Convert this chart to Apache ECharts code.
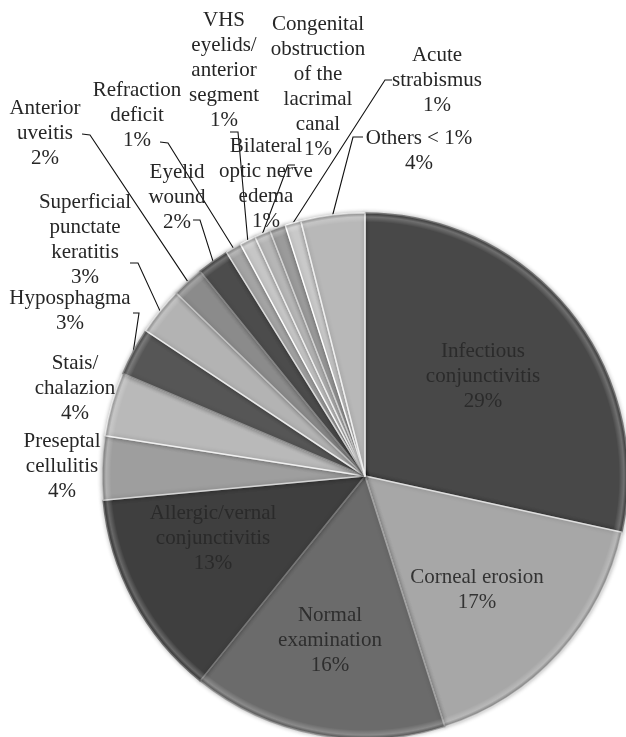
<!DOCTYPE html>
<html>
<head>
<meta charset="utf-8">
<script src="https://cdn.jsdelivr.net/npm/echarts@6/dist/echarts.min.js"></script>
<style>
  html, body { margin: 0; padding: 0; background: #ffffff; }
  #chart { width: 626px; height: 737px; }
</style>
</head>
<body>
<div id="chart"></div>
<script>
// Diagnoses, clockwise from 12 o'clock
const categories = [
  'Infectious\nconjunctivitis',
  'Corneal erosion',
  'Normal\nexamination',
  'Allergic/vernal\nconjunctivitis',
  'Preseptal\ncellulitis',
  'Stais/\nchalazion',
  'Hyposphagma',
  'Superficial\npunctate\nkeratitis',
  'Anterior\nuveitis',
  'Eyelid\nwound',
  'Refraction\ndeficit',
  'VHS\neyelids/\nanterior\nsegment',
  'Bilateral\noptic nerve\nedema',
  'Congenital\nobstruction\nof the\nlacrimal\ncanal',
  'Acute\nstrabismus',
  'Others < 1%'
];

// Share of consultations, percent
const values = [29, 17, 16, 13, 4, 4, 3, 3, 2, 2, 1, 1, 1, 1, 1, 4];

// Slice fills
const sliceColors = [
  '#484848', '#a7a7a7', '#6b6b6b', '#3f3f3f',
  '#9e9e9e', '#b9b9b9', '#565656', '#b3b3b3',
  '#8b8b8b', '#4c4c4c', '#a4a4a4', '#c6c6c6',
  '#b6b6b6', '#9b9b9b', '#c9c9c9', '#b8b8b8'
];

// Label text centres
const labelCenters = [
  [483, 376], [477, 590], [330, 640], [213, 538],
  [62, 466], [75, 388], [70, 311], [85, 240],
  [45, 133], [177, 197], [137, 115], [224, 70],
  [266, 184], [318, 87], [437, 80], [419, 151]
];

// Leader line: point beside the label text and the end of its short stub
const leaderStarts = [
  null, null, null, null,
  null, null, [133, 313, 139, 313], [130, 263, 138, 263],
  [82, 134, 90, 135], [193, 220, 200, 220], [160, 142, 168, 143], [230, 132, 238, 132],
  [295, 165, 288, 165], null, [392, 80, 385, 80], [363, 137, 353, 137]
];

const insideIdx = [0, 1, 2, 3];
const insideTextColors = ['#2b2b2b', '#333333', '#2e2e2e', '#2a2a2a'];

const CENTER = [365, 476];
const RADIUS = 263;

function lighten(hex, amt) {
  const n = parseInt(hex.slice(1), 16);
  const r = Math.min(255, ((n >> 16) & 255) + amt);
  const g = Math.min(255, ((n >> 8) & 255) + amt);
  const b = Math.min(255, (n & 255) + amt);
  return 'rgb(' + r + ',' + g + ',' + b + ')';
}

const pieData = values.map(function (v, i) {
  const inside = insideIdx.indexOf(i) >= 0;
  return {
    name: categories[i],
    value: v,
    itemStyle: {
      color: sliceColors[i],
      borderColor: lighten(sliceColors[i], 55),
      borderWidth: 1.5
    },
    label: {
      color: inside ? insideTextColors[insideIdx.indexOf(i)] : '#262626'
    },
    labelLine: { show: !!leaderStarts[i] }
  };
});

// Bevel sheen along the rim of every slice
const rimData = values.map(function (v, i) {
  return { name: categories[i], value: v };
});

const chart = echarts.init(document.getElementById('chart'), null, { renderer: 'canvas' });

chart.setOption({
  backgroundColor: '#ffffff',
  animation: false,
  series: [{
    type: 'pie',
    center: CENTER,
    radius: [0, RADIUS],
    startAngle: 90,
    clockwise: true,
    avoidLabelOverlap: false,
    data: pieData,
    itemStyle: {
      shadowBlur: 4,
      shadowColor: 'rgba(0,0,0,0.25)'
    },
    label: {
      show: true,
      position: 'outside',
      formatter: function (p) { return p.name + '\n' + p.value + '%'; },
      fontFamily: '"Liberation Serif", "DejaVu Serif", serif',
      fontSize: 21,
      lineHeight: 25,
      align: 'center'
    },
    labelLine: {
      length: 10,
      length2: 8,
      lineStyle: { color: '#111111', width: 1.1 }
    },
    labelLayout: function (params) {
      const i = params.dataIndex;
      const c = labelCenters[i];
      const out = { x: c[0], y: c[1], align: 'center', verticalAlign: 'middle' };
      const s = leaderStarts[i];
      if (s && params.labelLinePoints) {
        const anchor = params.labelLinePoints[0];
        out.labelLinePoints = [[anchor[0], anchor[1]], [s[2], s[3]], [s[0], s[1]]];
      }
      return out;
    }
  }, {
    type: 'pie',
    center: CENTER,
    radius: [RADIUS - 9, RADIUS],
    startAngle: 90,
    clockwise: true,
    silent: true,
    label: { show: false },
    labelLine: { show: false },
    data: rimData,
    itemStyle: {
      borderWidth: 0,
      color: {
        type: 'radial',
        x: CENTER[0], y: CENTER[1], r: RADIUS,
        global: true,
        colorStops: [
          { offset: 0, color: 'rgba(255,255,255,0)' },
          { offset: 0.965, color: 'rgba(255,255,255,0)' },
          { offset: 0.985, color: 'rgba(255,255,255,0.22)' },
          { offset: 1, color: 'rgba(0,0,0,0.18)' }
        ]
      }
    }
  }]
});
</script>
</body>
</html>
